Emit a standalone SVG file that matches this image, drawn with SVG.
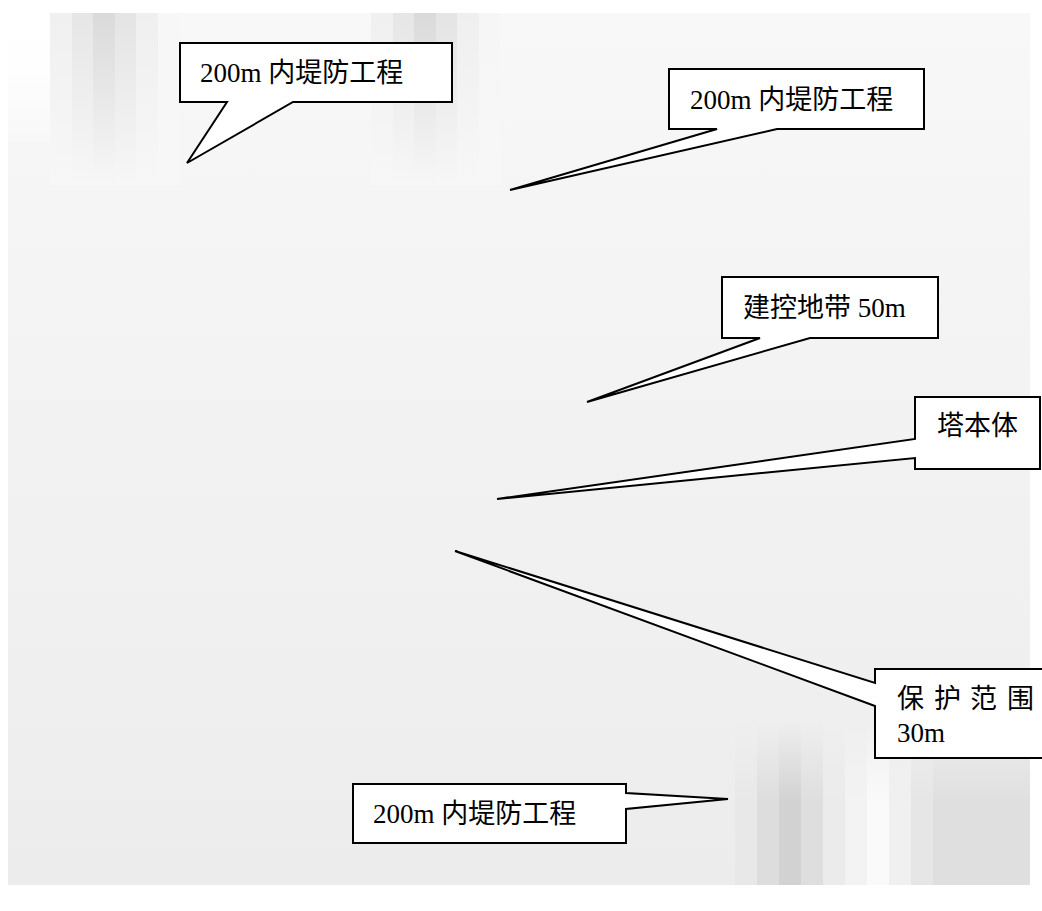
<svg xmlns="http://www.w3.org/2000/svg" width="1042" height="911" viewBox="0 0 1042 911">
<style>
.box{fill:#ffffff;stroke:#000000;stroke-width:2;stroke-linejoin:miter}
.lbl{font-family:"Liberation Serif","Noto Sans CJK SC",serif;font-size:27px;fill:#000000}
</style>
<defs>
<linearGradient id="fadeTop" x1="0" y1="0" x2="0" y2="1">
<stop offset="0" stop-color="#ffffff" stop-opacity="0"/>
<stop offset="1" stop-color="#f7f7f7" stop-opacity="1"/>
</linearGradient>
<linearGradient id="bgV" x1="0" y1="0" x2="0" y2="1">
<stop offset="0" stop-color="#f8f8f8"/>
<stop offset="0.3" stop-color="#f4f4f4"/>
<stop offset="0.7" stop-color="#f0f0f0"/>
<stop offset="1" stop-color="#ececec"/>
</linearGradient>
<linearGradient id="colFade" x1="0" y1="0" x2="0" y2="1">
<stop offset="0" stop-color="#f7f7f7" stop-opacity="0"/>
<stop offset="1" stop-color="#f7f7f7" stop-opacity="1"/>
</linearGradient>
<linearGradient id="colFadeUp" x1="0" y1="0" x2="0" y2="1">
<stop offset="0" stop-color="#efefef" stop-opacity="1"/>
<stop offset="0.5" stop-color="#efefef" stop-opacity="0"/>
</linearGradient>
</defs>
<rect x="0" y="0" width="1042" height="911" fill="#ffffff"/>
<g id="background">
<rect x="8" y="13" width="1022" height="872" fill="url(#bgV)"/>
<rect x="0" y="13" width="50" height="130" fill="#ffffff"/>
<rect x="8" y="13" width="42" height="130" fill="url(#fadeTop)"/>
<!-- top-left columns -->
<rect x="50" y="13" width="22" height="172" fill="#f0f0f0"/>
<rect x="72" y="13" width="21" height="172" fill="#e6e6e6"/>
<rect x="93" y="13" width="22" height="172" fill="#dadada"/>
<rect x="115" y="13" width="21" height="172" fill="#e4e4e4"/>
<rect x="136" y="13" width="22" height="172" fill="#efefef"/>
<rect x="158" y="13" width="21" height="172" fill="#f7f7f7"/>
<rect x="50" y="13" width="130" height="172" fill="url(#colFade)"/>
<!-- top-middle columns -->
<rect x="371" y="13" width="22" height="172" fill="#f0f0f0"/>
<rect x="393" y="13" width="21" height="172" fill="#e6e6e6"/>
<rect x="414" y="13" width="22" height="172" fill="#dadada"/>
<rect x="436" y="13" width="21" height="172" fill="#e4e4e4"/>
<rect x="457" y="13" width="22" height="172" fill="#efefef"/>
<rect x="479" y="13" width="21" height="172" fill="#f6f6f6"/>
<rect x="371" y="13" width="130" height="172" fill="url(#colFade)"/>
<!-- bottom-right columns -->
<rect x="735" y="720" width="22" height="165" fill="#e8e8e8"/>
<rect x="757" y="720" width="22" height="165" fill="#dddddd"/>
<rect x="779" y="720" width="22" height="165" fill="#d2d2d2"/>
<rect x="801" y="720" width="22" height="165" fill="#dedede"/>
<rect x="823" y="720" width="22" height="165" fill="#ebebeb"/>
<rect x="845" y="720" width="22" height="165" fill="#f3f3f3"/>
<rect x="867" y="720" width="22" height="165" fill="#fafafa"/>
<rect x="889" y="720" width="22" height="165" fill="#f0f0f0"/>
<rect x="911" y="720" width="22" height="165" fill="#e6e6e6"/>
<rect x="933" y="720" width="97" height="165" fill="#dfdfdf"/>
<rect x="735" y="720" width="295" height="165" fill="url(#colFadeUp)"/>
</g>
<g id="connectors"></g>
<g id="callout-top-left">
<path class="box" d="M180 43 H452 V102 H293 L187 163 L227 102 H180 Z"/>
<text class="lbl" x="200" y="82">200m 内堤防工程</text>
</g>
<g id="callout-top-right">
<path class="box" d="M669 69 H924 V129 H777 L510 190 L717 129 H669 Z"/>
<text class="lbl" x="690" y="109">200m 内堤防工程</text>
</g>
<g id="callout-jiankong">
<path class="box" d="M722 277 H938 V338 H810 L587 402 L760 338 H722 Z"/>
<text class="lbl" x="743" y="317">建控地带 50m</text>
</g>
<g id="callout-taben">
<path class="box" d="M915 397 H1040 V469 H915 V458 L497 499 L915 439 Z"/>
<text class="lbl" x="937" y="435">塔本体</text>
</g>
<g id="callout-baohu">
<path class="box" d="M875 669 H1046 V758 H875 V706 L455 551 L875 683 Z"/>
<text class="lbl" x="897 934 970 1007" y="708">保护范围</text>
<text class="lbl" x="897" y="742">30m</text>
</g>
<g id="callout-bottom">
<path class="box" d="M353 784 H626 V793 L728 799 L626 809 V843 H353 Z"/>
<text class="lbl" x="373" y="823">200m 内堤防工程</text>
</g>
</svg>
